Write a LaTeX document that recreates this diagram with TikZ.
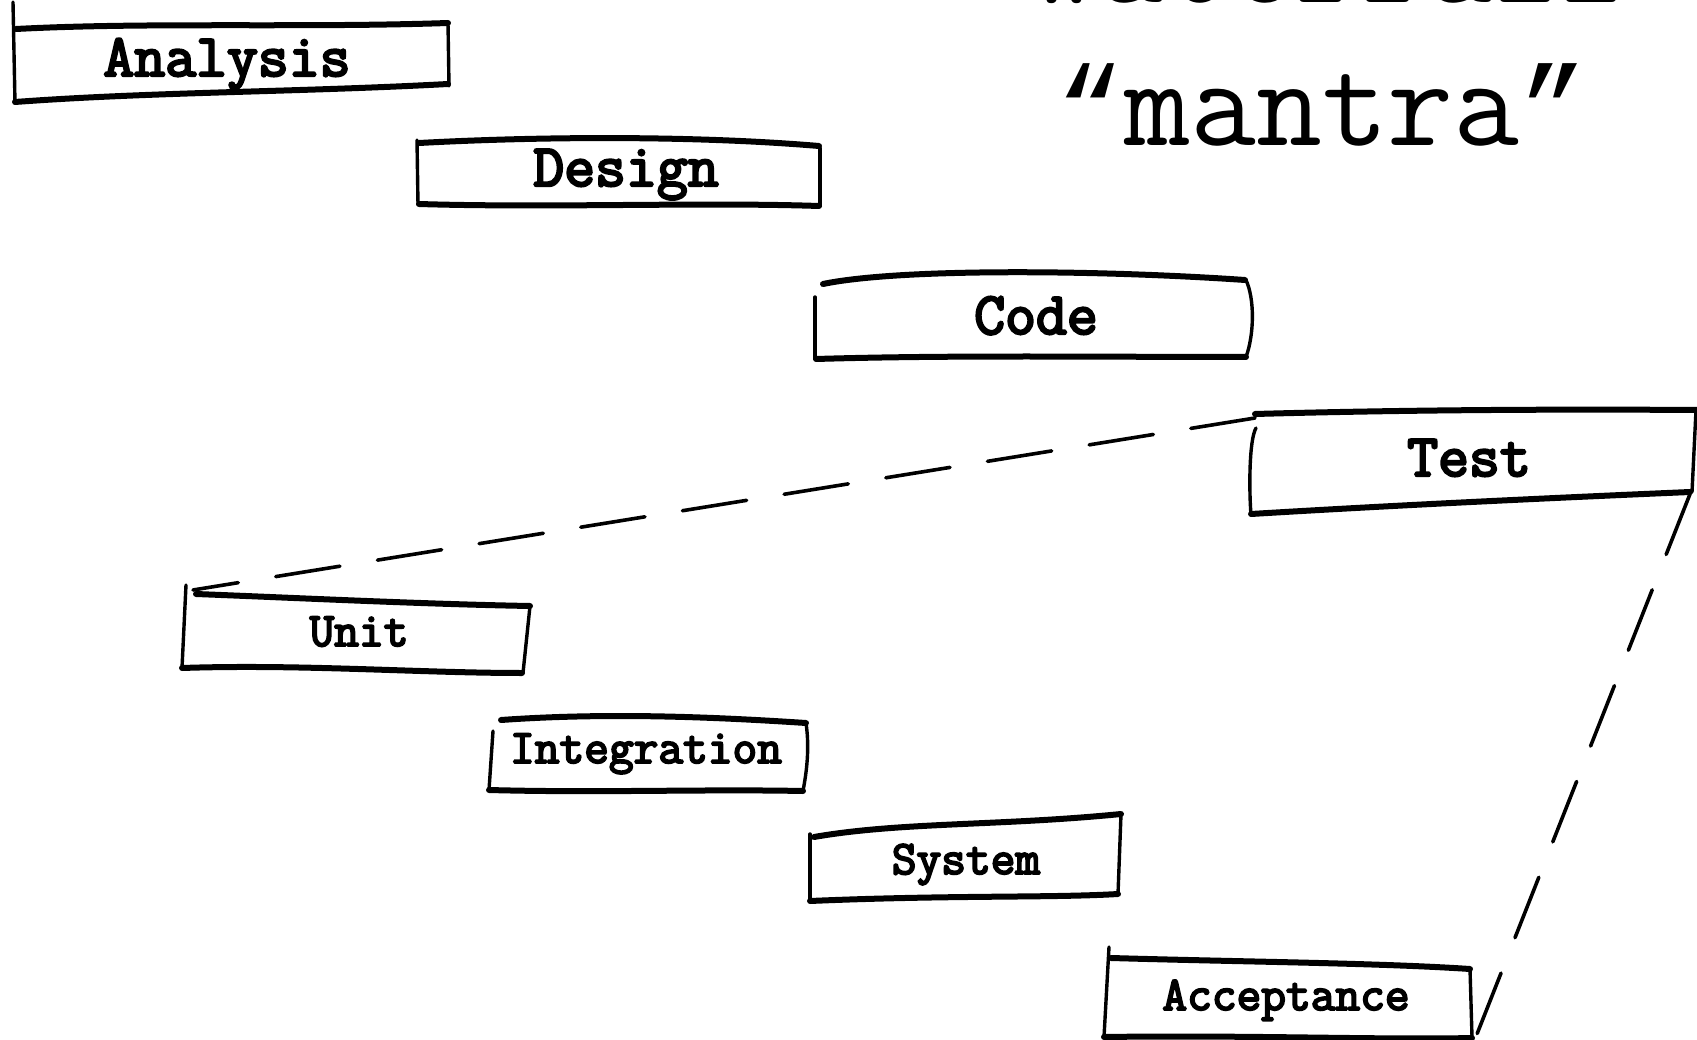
\documentclass[tikz,border=0pt]{standalone}
\usepackage{fontspec}
\newfontfamily\lmttbold[FakeBold=4]{Latin Modern Mono}
\newfontfamily\lmttreg{Latin Modern Mono}
\newfontfamily\quotefont{Liberation Mono}
\begin{document}
\begin{tikzpicture}[x=1pt,y=-1pt,
  hedge/.style={line width=6pt,line cap=round,line join=round},
  vedge/.style={line width=3.4pt,line cap=round,line join=round},
  biglbl/.style={font=\lmttbold\fontsize{60}{60}\selectfont,anchor=base,inner sep=0pt},
  smalllbl/.style={font=\lmttbold\fontsize{48}{48}\selectfont,anchor=base,inner sep=0pt},
  titletxt/.style={font=\lmttreg\fontsize{128}{128}\selectfont,anchor=base,inner sep=0pt},
  dashln/.style={line width=3.6pt,dash pattern=on 65pt off 38pt,line cap=round}]
\useasboundingbox (0,0) rectangle (1697,1040);
\fill[white] (0,0) rectangle (1697,1040);

% title
\node[titletxt] (ttl) at (1328,3) {Waterfall};
\node[titletxt] (mantra) at (1322,146) {{\quotefont\fontsize{113}{113}\selectfont “}mantra{\quotefont\fontsize{113}{113}\selectfont ”}};

% Analysis
\draw[hedge] (16,29) .. controls (150,22) and (300,28) .. (448,23);
\draw[vedge] (13,2) -- (15,103);
\draw[hedge] (15,102) .. controls (150,92) and (300,92) .. (448,84);
\draw[vedge] (448,23) -- (449,86);
\node[biglbl] (analysis) at (227,76) {Analysis};

% Design
\draw[hedge] (419,143) .. controls (550,136) and (700,136) .. (819,146);
\draw[vedge] (417,140) -- (418,205);
\draw[hedge] (419,204) .. controls (550,208) and (700,202) .. (819,206);
\draw[vedge] (820,148) -- (820,206);
\node[biglbl] (design) at (626,186) {Design};

% Code
\draw[hedge] (823,284) .. controls (900,268) and (1100,270) .. (1245,280);
\draw[vedge] (815,297) -- (815,359);
\draw[hedge] (816,359) .. controls (950,355) and (1100,357) .. (1246,357);
\draw[vedge] (1246,280) .. controls (1255,300) and (1254,335) .. (1246,357);
\node[biglbl] (code) at (1036,334) {Code};

% Test
\coordinate (te-nw) at (1255,418);
\coordinate (te-se) at (1690,494);
\draw[hedge] (1255,414) .. controls (1400,410) and (1550,409) .. (1697,410);
\draw[vedge] (1256,428) .. controls (1249,440) and (1249,490) .. (1251,515);
\draw[hedge] (1251,514) .. controls (1400,505) and (1550,498) .. (1690,492);
\draw[vedge] (1696,410) -- (1692,492);
\node[biglbl] (test) at (1469,476) {Test};

% Unit
\coordinate (un-nw) at (193,590);
\draw[hedge] (196,594) .. controls (300,598) and (420,604) .. (530,606);
\draw[vedge] (186,585) -- (182,668);
\draw[hedge] (182,668) .. controls (300,664) and (420,673) .. (522,673);
\draw[vedge] (530,606) -- (523,673);
\node[smalllbl] (unit) at (359,646) {Unit};

% Integration
\draw[hedge] (501,720) .. controls (600,713) and (700,716) .. (806,723);
\draw[vedge] (493,731) -- (489,790);
\draw[hedge] (489,790) .. controls (600,793) and (700,789) .. (803,791);
\draw[vedge] (806,723) .. controls (810,750) and (806,775) .. (803,791);
\node[smalllbl] (integration) at (646,763) {Integration};

% System
\draw[hedge] (814,837) .. controls (900,822) and (1000,826) .. (1121,814);
\draw[vedge] (810,834) -- (810,901);
\draw[hedge] (810,901) .. controls (950,895) and (1050,898) .. (1118,894);
\draw[vedge] (1121,814) -- (1118,894);
\node[smalllbl] (system) at (966,874) {System};

% Acceptance
\coordinate (ac-se) at (1477,1034);
\draw[hedge] (1111,958) .. controls (1250,962) and (1380,963) .. (1470,969);
\draw[vedge] (1109,947) -- (1104,1037);
\draw[hedge] (1104,1037) .. controls (1250,1035) and (1380,1040) .. (1472,1038);
\draw[vedge] (1470,969) -- (1472,1037);
\node[smalllbl] (acceptance) at (1286,1010) {Acceptance};

% dashed connectors
\draw[dashln] (te-nw) -- (un-nw);
\draw[dashln] (te-se) -- (ac-se);
\end{tikzpicture}
\end{document}
